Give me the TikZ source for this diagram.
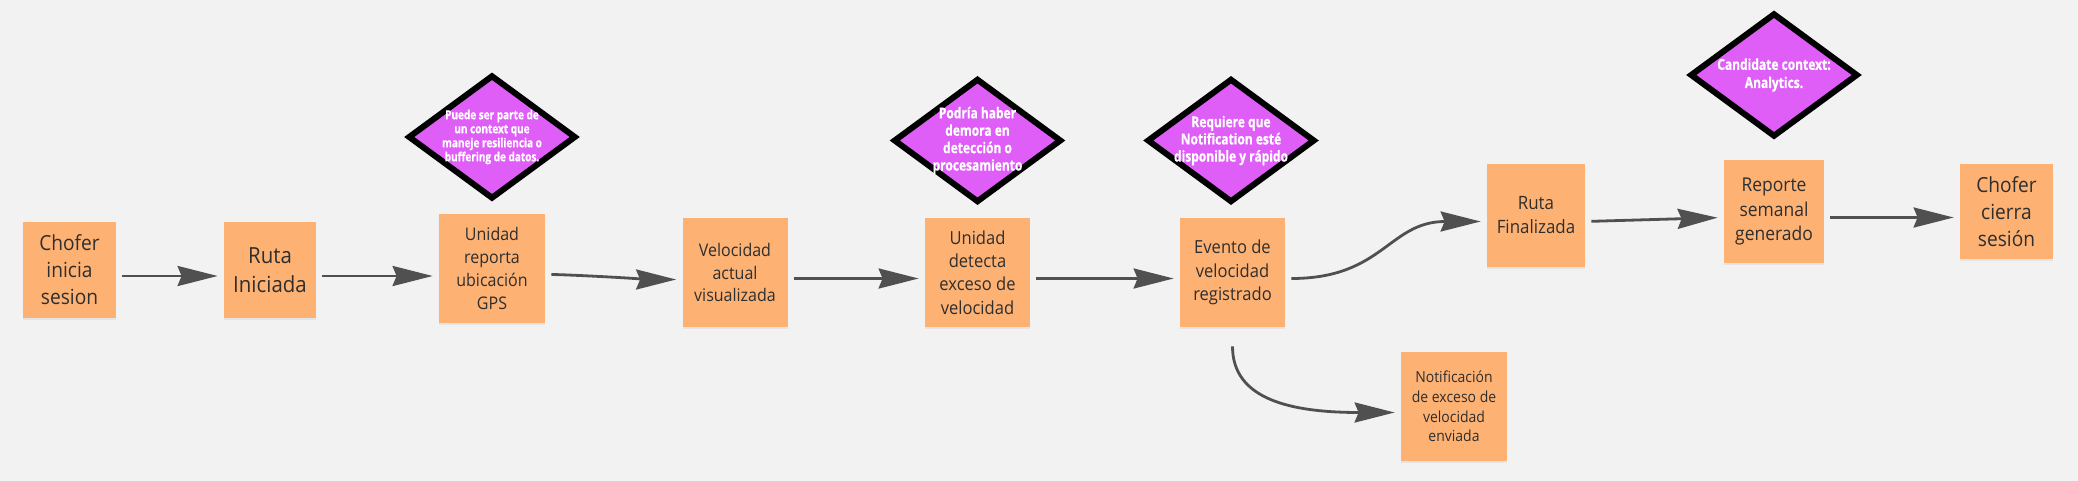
\documentclass[tikz,border=0pt]{standalone}
\usepackage{fontspec}
\setmainfont{Open Sans}
\newfontfamily\notefont[FakeStretch=0.92]{Open Sans}
\newfontfamily\tagfont[FakeStretch=0.8,BoldFeatures={FakeBold=0.7}]{Open Sans}
\usepackage{tikz}
\usetikzlibrary{shapes.geometric,arrows.meta,shadows}

\definecolor{sticky}{HTML}{FDB274}
\definecolor{tagfill}{HTML}{E05EF8}
\definecolor{flowgray}{HTML}{505050}
\definecolor{paper}{HTML}{F2F2F2}
\newcommand{\fsz}[2]{\fontsize{#1}{#2}\selectfont}

\begin{document}
\begin{tikzpicture}[x=0.5pt,y=-0.5pt,
    note/.style={fill=sticky, text=black!82, align=center, inner sep=1pt,
        drop shadow={shadow xshift=0pt, shadow yshift=-1.2pt, opacity=0.12}},
    tag/.style={diamond, draw=black, line width=3pt, fill=tagfill,
        minimum width=84pt, minimum height=62pt, inner sep=0pt},
    tagtext/.style={text=white, align=center},
    flow/.style={draw=flowgray, line width=1.4pt,
        -{Stealth[length=20pt,width=10pt,inset=2pt]}, shorten <=3pt, shorten >=3pt}]

    % Background of the board
    \fill[paper] (0,0) rectangle (2078,481);

    % Sticky notes along the route
    \node[note, minimum width=46.5pt, minimum height=48pt, font=\notefont\fsz{10.4}{13.5}] (chofer) at (69.5,270) {Chofer\\inicia\\sesion};
    \node[note, minimum width=46pt, minimum height=48pt, font=\notefont\fsz{11.1}{14.5}] (ruta) at (270,270) {Ruta\\Iniciada};
    \node[note, minimum width=53pt, minimum height=54.5pt, font=\notefont\fsz{8.7}{11.35}] (unidad) at (492,268.5) {Unidad\\reporta\\ubicación\\GPS};
    \node[note, minimum width=52.5pt, minimum height=54.5pt, font=\notefont\fsz{8.7}{11.25}] (veloc) at (735,272.5) {Velocidad\\actual\\visualizada};
    \node[note, minimum width=52.5pt, minimum height=54.5pt, font=\notefont\fsz{9}{11.6}] (detecta) at (977.5,272.5) {Unidad\\detecta\\exceso de\\velocidad};
    \node[note, minimum width=52.5pt, minimum height=54.5pt, font=\notefont\fsz{9}{11.6}] (evento) at (1232.5,272.5) {Evento de\\velocidad\\registrado};
    \node[note, minimum width=53pt, minimum height=54.5pt, font=\notefont\fsz{7.6}{9.85}] (notif) at (1454,406.5) {Notificación\\de exceso de\\velocidad\\enviada};
    \node[note, minimum width=49pt, minimum height=51.5pt, font=\notefont\fsz{9.2}{12}] (rutafin) at (1536,215.5) {Ruta\\Finalizada};
    \node[note, minimum width=50pt, minimum height=51.5pt, font=\notefont\fsz{9.5}{12.3}] (reporte) at (1774,211.5) {Reporte\\semanal\\generado};
    \node[note, minimum width=46.5pt, minimum height=47.5pt, font=\notefont\fsz{10.4}{13.5}] (cierra) at (2006.5,211.5) {Chofer\\cierra\\sesión};

    % Hot spots above the notes
    \node[tag, label={[tagtext, font=\tagfont\bfseries\fsz{6.25}{7}]center:{Puede ser parte de\\un context que\\maneje resiliencia o\\buffering de datos.}}] (gps) at (492,137) {};
    \node[tag, label={[tagtext, font=\tagfont\bfseries\fsz{7.5}{8.7}]center:{Podría haber\\demora en\\detección o\\procesamiento}}] (demora) at (977.5,140.5) {};
    \node[tag, label={[tagtext, font=\tagfont\bfseries\fsz{7.5}{8.6}]center:{Requiere que\\Notification esté\\disponible y rápido}}] (notifreq) at (1231,140.5) {};
    \node[tag, label={[tagtext, font=\tagfont\bfseries\fsz{7.5}{9.1}]center:{Candidate context:\\Analytics.}}] (analytics) at (1774,75) {};

    % Flow between the events
    \draw[flow] ([yshift=-3pt]chofer.east) -- ([yshift=-3pt]ruta.west);
    \draw[flow] ([yshift=-3pt]ruta.east) -- ([yshift=-3pt]unidad.west |- ruta.west);
    \draw[flow] ([yshift=-3pt]unidad.east) to[out=0,in=180,looseness=0.4] ([yshift=-3.5pt]veloc.west);
    \draw[flow] ([yshift=-3pt]veloc.east) -- ([yshift=-3pt]detecta.west);
    \draw[flow] ([yshift=-3pt]detecta.east) -- ([yshift=-3pt]evento.west);
    \draw[flow] ([yshift=-3pt]evento.east) to[out=0,in=180,looseness=1.2] ([yshift=-3pt]rutafin.west);
    \draw[flow] ([yshift=-3pt]rutafin.east) -- ([yshift=-3pt]reporte.west);
    \draw[flow] ([yshift=-3pt]reporte.east) -- ([yshift=-3pt]cierra.west);
    \draw[flow, shorten <=9.5pt] (evento.south) .. controls +(0,72) and +(-110,0) .. ([yshift=-3pt]notif.west);
\end{tikzpicture}
\end{document}
